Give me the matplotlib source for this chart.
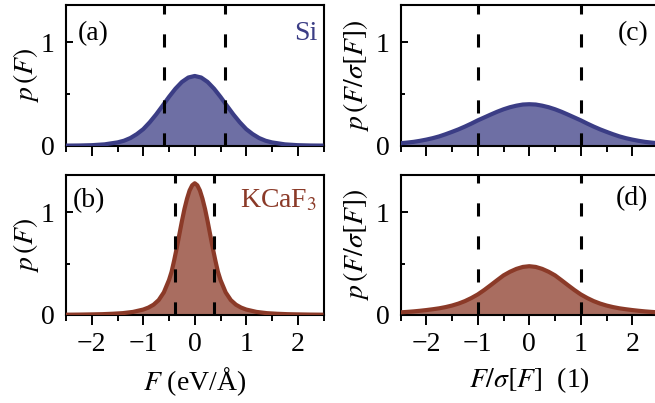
import numpy as np
import matplotlib
matplotlib.use("Agg")
import matplotlib.pyplot as plt
from matplotlib.ticker import MultipleLocator

plt.rcParams['font.family'] = ['Liberation Serif', 'DejaVu Serif']
plt.rcParams['mathtext.fontset'] = 'stix'
plt.rcParams['font.size'] = 20

# ---- data ----
# (a) Si, p(F) vs F (eV/Å)
si_F = [-2.5, -2.25, -2.0, -1.75, -1.5, -1.375, -1.25, -1.125, -1.0, -0.875, -0.75, -0.625,
        -0.5, -0.375, -0.25, -0.125, 0.0, 0.125, 0.25, 0.375, 0.5, 0.625, 0.75, 0.875,
        1.0, 1.125, 1.25, 1.375, 1.5, 1.75, 2.0, 2.25, 2.5]
si_p = [0.001, 0.002, 0.005, 0.013, 0.032, 0.048, 0.074, 0.112, 0.160, 0.226, 0.302, 0.386,
        0.472, 0.551, 0.616, 0.659, 0.674, 0.659, 0.616, 0.551, 0.472, 0.386, 0.302, 0.226,
        0.160, 0.112, 0.074, 0.048, 0.032, 0.013, 0.005, 0.002, 0.001]
si_sigma = 0.59

# (b) KCaF3, p(F) vs F (eV/Å)
k_F = [-2.5, -2.25, -2.0, -1.8, -1.6, -1.4, -1.2, -1.0, -0.9, -0.8, -0.7, -0.6, -0.5, -0.45,
       -0.4, -0.35, -0.3, -0.25, -0.2, -0.15, -0.1, -0.05, 0.0, 0.05, 0.1, 0.15, 0.2, 0.25,
       0.3, 0.35, 0.4, 0.45, 0.5, 0.6, 0.7, 0.8, 0.9, 1.0, 1.2, 1.4, 1.6, 1.8, 2.0, 2.25, 2.5]
k_p = [0.003, 0.004, 0.006, 0.008, 0.012, 0.018, 0.030, 0.053, 0.072, 0.100, 0.145, 0.22,
       0.34, 0.42, 0.53, 0.65, 0.78, 0.91, 1.03, 1.13, 1.21, 1.26, 1.28, 1.26, 1.21, 1.13,
       1.03, 0.91, 0.78, 0.65, 0.53, 0.42, 0.34, 0.22, 0.145, 0.100, 0.072, 0.053, 0.030,
       0.018, 0.012, 0.008, 0.006, 0.004, 0.003]
k_sigma = 0.38

# (c) Si normalised, p(F/sigma[F])
z_grid = [-2.5, -2.375, -2.25, -2.125, -2.0, -1.875, -1.75, -1.625, -1.5, -1.375, -1.25,
          -1.125, -1.0, -0.875, -0.75, -0.625, -0.5, -0.375, -0.25, -0.125, 0.0, 0.125,
          0.25, 0.375, 0.5, 0.625, 0.75, 0.875, 1.0, 1.125, 1.25, 1.375, 1.5, 1.625, 1.75,
          1.875, 2.0, 2.125, 2.25, 2.375, 2.5]
si_norm_p = [0.024, 0.030, 0.037, 0.047, 0.059, 0.073, 0.090, 0.111, 0.134, 0.158, 0.185,
             0.214, 0.245, 0.273, 0.301, 0.328, 0.352, 0.372, 0.387, 0.398, 0.401, 0.398,
             0.387, 0.372, 0.352, 0.328, 0.301, 0.273, 0.245, 0.214, 0.185, 0.158, 0.134,
             0.111, 0.090, 0.073, 0.059, 0.047, 0.037, 0.030, 0.024]
# (d) KCaF3 normalised
k_norm_p = [0.026, 0.030, 0.035, 0.041, 0.048, 0.056, 0.065, 0.077, 0.092, 0.111, 0.135,
            0.165, 0.200, 0.243, 0.290, 0.338, 0.385, 0.420, 0.448, 0.467, 0.474, 0.467,
            0.448, 0.420, 0.385, 0.338, 0.290, 0.243, 0.200, 0.165, 0.135, 0.111, 0.092,
            0.077, 0.065, 0.056, 0.048, 0.041, 0.035, 0.030, 0.026]

si_edge = '#3b3d85'
k_edge = '#8b3a28'

W, H = 655, 403
fig = plt.figure(figsize=(W / 100, H / 100), dpi=100)

def px_axes(x0, y0, x1, y1):
    return fig.add_axes([x0 / W, 1 - y1 / H, (x1 - x0) / W, (y1 - y0) / H])

axa = px_axes(66, 5, 323.5, 145.7)
axb = px_axes(66, 175, 323.5, 315)
axc = px_axes(400.6, 5, 658, 145.7)
axd = px_axes(400.6, 175, 658, 315)

dash = (0, (4.3, 6.5))

def panel(ax, x, y, color, vl, bottom):
    ax.fill_between(x, 0, y, color=color, alpha=0.74, lw=0, zorder=2)
    ax.plot(x, y, color=color, lw=3.0, zorder=3, solid_capstyle='butt')
    for v in (-vl, vl):
        ax.axvline(v, color='k', lw=2.2, linestyle=dash, zorder=4)
    ax.set_xlim(-2.5, 2.5)
    ax.set_ylim(0, 1.36)
    ax.xaxis.set_major_locator(MultipleLocator(1))
    ax.xaxis.set_minor_locator(MultipleLocator(0.5))
    ax.yaxis.set_major_locator(MultipleLocator(1))
    ax.yaxis.set_minor_locator(MultipleLocator(0.5))
    ax.tick_params(axis='x', which='major', direction='out', length=7, width=1.4, pad=5)
    ax.tick_params(axis='x', which='minor', direction='out', length=4.3, width=1.4)
    ax.tick_params(axis='y', which='major', direction='in', length=5, width=1.4, pad=8)
    ax.tick_params(axis='y', which='minor', direction='in', length=3, width=1.4)
    for s in ax.spines.values():
        s.set_linewidth(1.5)
    if not bottom:
        ax.tick_params(axis='x', labelbottom=False)

panel(axa, si_F, si_p, si_edge, si_sigma, False)
panel(axb, k_F, k_p, k_edge, k_sigma, True)
panel(axc, z_grid, si_norm_p, si_edge, 1.0, False)
panel(axd, z_grid, k_norm_p, k_edge, 1.0, True)

for ax in (axa, axb):
    ax.set_ylabel(r'$p\,(F)$', labelpad=0)
for ax in (axc, axd):
    ax.set_ylabel(r'$p\,(F/\sigma[F])$', labelpad=3)

axb.set_xlabel(r'$F$ (eV/Å)', labelpad=6)
axd.set_xlabel(r'$F/\sigma[F]$  (1)', labelpad=6)

axa.text(0.045, 0.80, '(a)', transform=axa.transAxes, ha='left', va='center')
axa.text(0.975, 0.80, 'Si', transform=axa.transAxes, ha='right', va='center', color=si_edge)
axb.text(0.025, 0.82, '(b)', transform=axb.transAxes, ha='left', va='center')
axb.text(0.975, 0.82, r'KCaF$_3$', transform=axb.transAxes, ha='right', va='center', color=k_edge)
axc.text(0.963, 0.80, '(c)', transform=axc.transAxes, ha='right', va='center')
axd.text(0.963, 0.83, '(d)', transform=axd.transAxes, ha='right', va='center')

fig.savefig('out.png', dpi=100)
